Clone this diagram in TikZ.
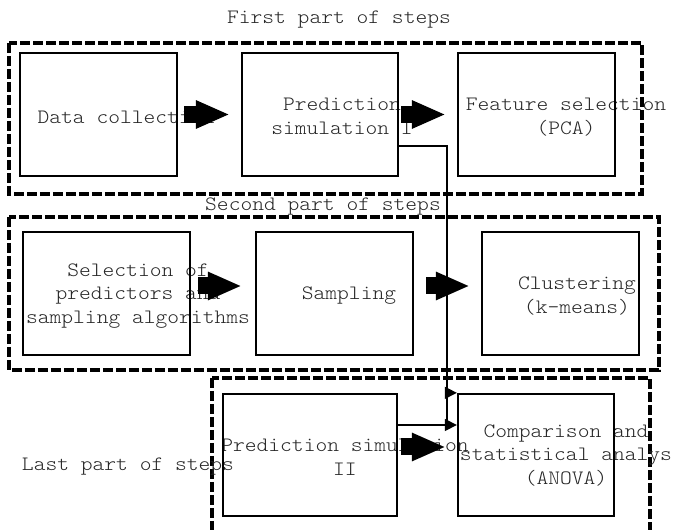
\documentclass[tikz,border=0pt]{standalone}
\usepackage{fontspec}
\setmonofont{lmmonolt10-regular.otf}[FakeStretch=1.1]
\usetikzlibrary{arrows.meta}
\tikzset{
  stepbox/.style={draw, line width=1.15pt, inner sep=0pt, minimum height=61.5pt},
  steptext/.style={font=\ttfamily\fontsize{10.2}{11.75}\selectfont, align=center, inner sep=0pt, text=black!85},
  partframe/.style={line width=1.7pt, dash pattern=on 5pt off 1.5pt},
  fatarrow/.style={line width=8.5pt, -{Triangle[length=17pt,width=13pt]}},
  thinline/.style={line width=0.65pt},
  thinarrow/.style={thinline, -{Triangle[length=6pt,width=6pt]}}
}
\begin{document}
\begin{tikzpicture}[x=0.5pt, y=-0.5pt]
  \useasboundingbox (0,0) rectangle (677,530);
  \clip (0,0) rectangle (677,530);
  % dashed frames of the three parts
  \draw[partframe] (9,43) rectangle (642,194);
  \draw[partframe] (9,217) rectangle (659,370);
  \draw[partframe] (212,378) rectangle (650,548);
  % titles and texts
  \node[steptext] (title1) at (339,20) {First part of steps};
  \node[steptext] (title2) at (323,207) {Second part of steps};
  \node[steptext] (title3) at (128,467) {Last part of steps};
  \node[steptext] (collecttxt) at (126,117) {Data collection};
  \node[steptext] (pred1txt) at (342,116.5) {Prediction\\simulation I};
  \node[steptext] (featuretxt) at (566,117) {Feature selection\\(PCA)};
  \node[steptext] (selecttxt) at (138,296) {Selection of\\predictors and\\sampling algorithms};
  \node[steptext] (samplingtxt) at (349,296) {Sampling};
  \node[steptext] (clustertxt) at (577,296) {Clustering\\(k-means)};
  \node[steptext] (pred2txt) at (345,457.5) {Prediction simulation\\II};
  \node[steptext] (comparetxt) at (566,455.5) {Comparison and\\statistical analys\\(ANOVA)};
  % step boxes
  \node[stepbox, minimum width=78.5pt] (collect) at (98.5,114.5) {};
  \node[stepbox, minimum width=78pt] (pred1) at (320,114.5) {};
  \node[stepbox, minimum width=78.5pt] (feature) at (536.5,114.5) {};
  \node[stepbox, minimum width=83.5pt] (select) at (106.5,293.5) {};
  \node[stepbox, minimum width=78.5pt] (sampling) at (334.5,293.5) {};
  \node[stepbox, minimum width=78.5pt] (cluster) at (560.5,293.5) {};
  \node[stepbox, minimum width=87pt, minimum height=61pt] (pred2) at (310,455) {};
  \node[stepbox, minimum width=78pt, minimum height=61pt] (compare) at (536,455) {};
  % fat arrows
  \draw[fatarrow] ([xshift=3pt]collect.east) -- ([xshift=-5.5pt]pred1.west);
  \draw[fatarrow] ([xshift=1pt]pred1.east) -- ([xshift=-5.5pt]feature.west);
  \draw[fatarrow] ([xshift=3.5pt,yshift=3.75pt]select.east) -- ([xshift=-6.5pt,yshift=3.75pt]sampling.west);
  \draw[fatarrow] ([xshift=6pt,yshift=3.75pt]sampling.east) -- ([xshift=-5.5pt,yshift=3.75pt]cluster.west);
  \draw[fatarrow] ([xshift=1.5pt,yshift=4pt]pred2.east) -- ([xshift=-5.5pt,yshift=4pt]compare.west);
  % thin connectors
  \coordinate (bend) at (447,146);
  \coordinate (joint) at (447,425);
  \draw[thinline] (pred1.east |- bend) -- (bend) -- (joint);
  \draw[thinarrow] (bend |- compare.north) -- (compare.north west);
  \draw[thinarrow] (pred2.east |- joint) -- (compare.west |- joint);
\end{tikzpicture}
\end{document}
